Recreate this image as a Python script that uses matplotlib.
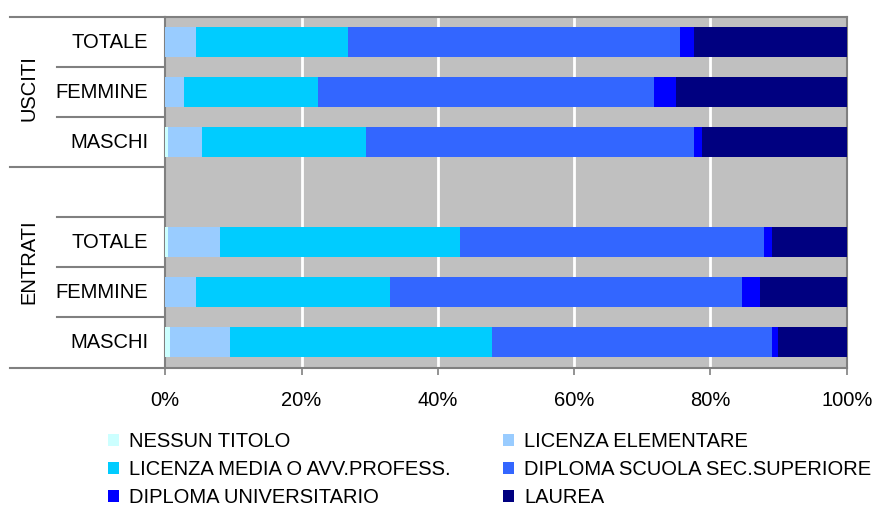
import matplotlib
matplotlib.use("Agg")
import matplotlib.pyplot as plt
from matplotlib.lines import Line2D
import numpy as np

plt.rcParams['font.family'] = ['Liberation Sans', 'DejaVu Sans']

# Rows from top to bottom (the empty row separates the two groups)
groups = ["USCITI", "ENTRATI"]
rows = ["TOTALE", "FEMMINE", "MASCHI", "", "TOTALE", "FEMMINE", "MASCHI"]

series = ["NESSUN TITOLO", "LICENZA ELEMENTARE", "LICENZA MEDIA O AVV.PROFESS.",
          "DIPLOMA SCUOLA SEC.SUPERIORE", "DIPLOMA UNIVERSITARIO", "LAUREA"]
colors = ["#CCFFFF", "#99CCFF", "#00CCFF", "#3366FF", "#0000FF", "#000080"]

# Percent shares per row (None = empty row)
nessun_titolo = [0.0, 0.0, 0.4, None, 0.4, 0.0, 0.7]
licenza_elem = [4.5, 2.7, 5.0, None, 7.6, 4.5, 8.8]
licenza_media = [22.3, 19.7, 24.1, None, 35.2, 28.5, 38.4]
diploma_sec = [48.7, 49.3, 48.1, None, 44.6, 51.6, 41.1]
diploma_univ = [2.1, 3.2, 1.2, None, 1.2, 2.7, 0.9]
laurea = [22.4, 25.1, 21.2, None, 11.0, 12.7, 10.1]

values = [nessun_titolo, licenza_elem, licenza_media, diploma_sec, diploma_univ, laurea]
xticks = [0, 20, 40, 60, 80, 100]
xticklabels = ["0%", "20%", "40%", "60%", "80%", "100%"]

FS = 14.5

W, H = 874, 508
fig = plt.figure(figsize=(W / 100, H / 100), dpi=100)
x0, x1, y0, y1 = 165.3, 846.7, 17, 367.5
ax = fig.add_axes([x0 / W, 1 - y1 / H, (x1 - x0) / W, (y1 - y0) / H])
ax.set_facecolor("#C0C0C0")

ypos = np.arange(len(rows))
left = np.zeros(len(rows))
handles = []
for name, col, vals in zip(series, colors, values):
    v = np.array([np.nan if x is None else x for x in vals], dtype=float)
    idx = ~np.isnan(v)
    b = ax.barh(ypos[idx], v[idx], left=left[idx], height=0.6, color=col,
                edgecolor="none", label=name, zorder=3)
    left[idx] += v[idx]
    handles.append(b)

ax.set_xlim(0, 100)
ax.set_ylim(len(rows) - 0.5, -0.5)
ax.set_xticks(xticks)
ax.set_xticklabels(xticklabels, fontsize=FS)
ax.set_yticks([])
for x in xticks[1:-1]:
    ax.axvline(x, color="white", lw=2, zorder=1)
for s in ax.spines.values():
    s.set_color("#808080")
    s.set_linewidth(1.5)
ax.tick_params(axis="x", length=5, width=1.2, color="#808080", pad=12)

# Row labels and group separators on the left
for i, r in enumerate(rows):
    if r:
        ax.text(-0.025, i, r, transform=ax.get_yaxis_transform(),
                ha="right", va="center", fontsize=FS)

def hline(ypix, xstart):
    fig.add_artist(Line2D([xstart / W, x0 / W], [1 - ypix / H, 1 - ypix / H],
                          color="#808080", lw=1.5))

row_h = (y1 - y0) / len(rows)
for k in range(len(rows) + 1):
    yp = y0 + k * row_h
    full = k in (0, 3, 7)
    hline(yp, 10 if full else 57)

fig.text(29 / W, 1 - 88 / H, groups[0], rotation=90,
         ha="center", va="center", fontsize=FS)
fig.text(29 / W, 1 - 262 / H, groups[1], rotation=90,
         ha="center", va="center", fontsize=FS)

order = [0, 2, 4, 1, 3, 5]
leg = fig.legend([handles[i] for i in order], [series[i] for i in order],
                 ncol=2, loc="upper left", bbox_to_anchor=(108 / W, 1 - 432 / H),
                 frameon=False, fontsize=FS, handlelength=0.55, handleheight=0.55,
                 handletextpad=0.5, columnspacing=2.6, labelspacing=0.45,
                 borderaxespad=0, borderpad=0)

fig.savefig("out.png", dpi=100, facecolor="white")
